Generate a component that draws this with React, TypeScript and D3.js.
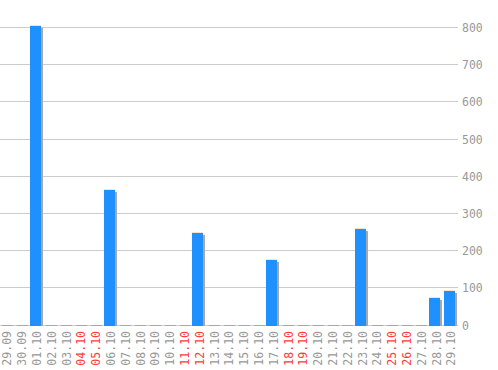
import React from "react";
import * as d3 from "d3";

const dates = [
  "29.09", "30.09", "01.10", "02.10", "03.10", "04.10", "05.10", "06.10",
  "07.10", "08.10", "09.10", "10.10", "11.10", "12.10", "13.10", "14.10",
  "15.10", "16.10", "17.10", "18.10", "19.10", "20.10", "21.10", "22.10",
  "23.10", "24.10", "25.10", "26.10", "27.10", "28.10", "29.10",
];
const values = [
  0, 0, 804, 0, 0, 0, 0, 362,
  0, 0, 0, 0, 0, 245, 0, 0,
  0, 0, 173, 0, 0, 0, 0, 0,
  256, 0, 0, 0, 0, 72, 90,
];
const weekends = ["04.10", "05.10", "11.10", "12.10", "18.10", "19.10", "25.10", "26.10"];
const yTicks = [0, 100, 200, 300, 400, 500, 600, 700, 800];

const W = 498;
const H = 370;
const FONT = "'DejaVu Sans Mono', monospace";

export default function App() {
  const x = d3.scaleBand<string>().domain(dates).range([0, 455]).paddingInner(0.25).paddingOuter(0);
  const y = d3.scaleLinear().domain([0, 800]).range([324.5, 27]);
  const step = x.step();
  const bw = Math.round(x.bandwidth());
  const crisp = (v: number) => Math.round(v) + 0.5;

  return (
    <svg
      width={W}
      height={H}
      style={{ position: "absolute", left: 0, top: 0, background: "#fff" }}
    >
      {yTicks.map((t) => (
        <g key={t}>
          <line x1={0} x2={458} y1={crisp(y(t))} y2={crisp(y(t))} stroke="#cccccc" />
          <text
            x={462}
            y={crisp(y(t))}
            dy="0.35em"
            fontFamily={FONT}
            fontSize={11.5}
            fill="#999999"
          >
            {t}
          </text>
        </g>
      ))}
      {dates.map((d, i) => {
        const x0 = Math.round(x(d)!);
        const top = Math.round(y(values[i]));
        const base = Math.round(y(0));
        if (values[i] === 0) {
          return <rect key={d} x={x0 + 2} y={base} width={bw} height={1} fill="#a8a8a8" />;
        }
        return (
          <g key={d}>
            <rect x={x0 + 2} y={top + 2} width={bw} height={base - top - 1} fill="#a8a8a8" />
            <rect x={x0} y={top} width={bw} height={base - top + 1} fill="#1e90ff" />
            <rect x={x0} y={top - 1} width={bw} height={1} fill="#f2e4d2" />
          </g>
        );
      })}
      {dates.map((d) => {
        const cx = x(d)! + step / 2;
        return (
          <text
            key={d}
            transform={`translate(${cx},331) rotate(-90)`}
            textAnchor="end"
            dy="0.35em"
            fontFamily={FONT}
            fontSize={11.5}
            fill={weekends.includes(d) ? "#ff3c3c" : "#999999"}
          >
            {d}
          </text>
        );
      })}
    </svg>
  );
}
